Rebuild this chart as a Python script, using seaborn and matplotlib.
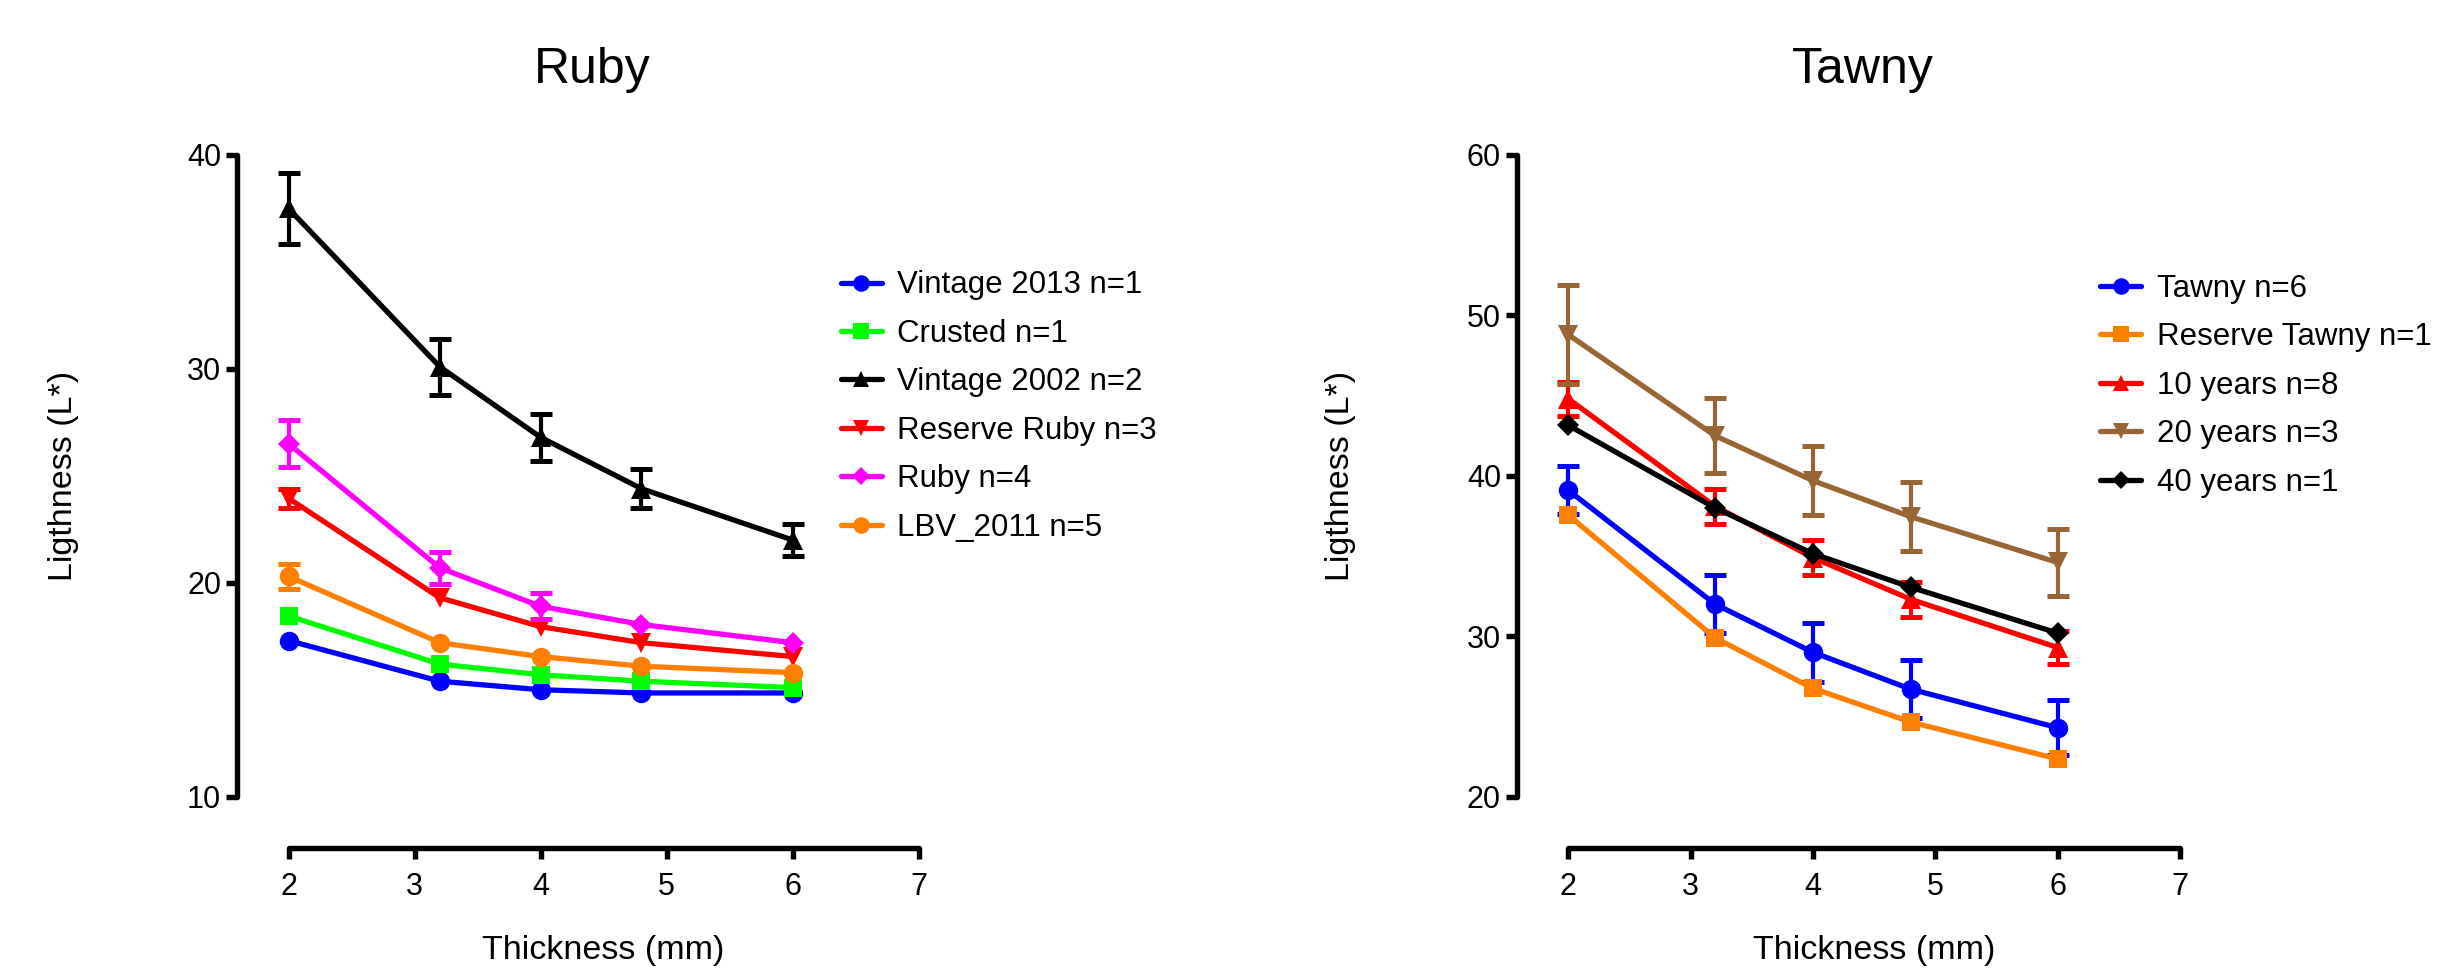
import numpy as np
import pandas as pd
import matplotlib
matplotlib.use("Agg")
import matplotlib.pyplot as plt
import seaborn as sns

# thickness of the sample (mm)
thickness = [2, 3.2, 4, 4.8, 6]

# --- Ruby panel ---
ruby_names = ["Vintage 2013 n=1", "Crusted n=1", "Vintage 2002 n=2",
              "Reserve Ruby n=3", "Ruby n=4", "LBV_2011 n=5"]
ruby_mean = [
    [17.3, 15.4, 15.0, 14.85, 14.85],
    [18.45, 16.2, 15.7, 15.4, 15.1],
    [37.5, 30.1, 26.8, 24.4, 22.0],
    [23.95, 19.3, 17.95, 17.2, 16.55],
    [26.5, 20.7, 18.9, 18.05, 17.2],
    [20.3, 17.2, 16.55, 16.1, 15.8],
]
ruby_err = [
    [0, 0, 0, 0, 0],
    [0, 0, 0, 0, 0],
    [1.65, 1.3, 1.1, 0.9, 0.77],
    [0.45, 0, 0, 0, 0],
    [1.1, 0.75, 0.6, 0, 0],
    [0.57, 0, 0, 0, 0],
]
ruby_colors = ["#0000FF", "#00FF00", "#000000", "#FF0000", "#FF00FF", "#FF8000"]
ruby_markers = ["o", "s", "^", "v", "D", "o"]

# --- Tawny panel ---
tawny_names = ["Tawny n=6", "Reserve Tawny n=1", "10 years n=8",
               "20 years n=3", "40 years n=1"]
tawny_mean = [
    [39.1, 32.0, 29.0, 26.7, 24.3],
    [37.55, 29.9, 26.75, 24.65, 22.35],
    [44.8, 38.1, 34.9, 32.3, 29.3],
    [48.8, 42.5, 39.7, 37.45, 34.6],
    [43.15, 38.0, 35.15, 33.05, 30.2],
]
tawny_err = [
    [1.5, 1.8, 1.85, 1.8, 1.7],
    [0, 0, 0, 0, 0],
    [1.05, 1.1, 1.1, 1.1, 1.03],
    [3.1, 2.35, 2.15, 2.15, 2.07],
    [0, 0, 0, 0, 0],
]
tawny_colors = ["#0000FF", "#FF8000", "#FF0000", "#996633", "#000000"]
tawny_markers = ["o", "s", "^", "v", "D"]

msizes = {"o": 14, "s": 13.5, "^": 14, "v": 14, "D": 11}

sns.set_style("ticks", {"axes.edgecolor": "black", "text.color": "black",
                        "xtick.color": "black", "ytick.color": "black",
                        "axes.labelcolor": "black"})
plt.rcParams["font.family"] = ["Liberation Sans", "DejaVu Sans"]

W, H = 2458, 968
fig = plt.figure(figsize=(W / 100, H / 100), dpi=100)


def panel(rect, title, names, means, errs, colors, markers, ylim, yticks,
          title_x, ylab_x, leg_anchor):
    ax = fig.add_axes(rect)
    rows = []
    for n, m in zip(names, means):
        for x, v in zip(thickness, m):
            rows.append({"thickness": x, "L": v, "series": n})
    df = pd.DataFrame(rows)
    sns.lineplot(data=df, x="thickness", y="L", hue="series", style="series",
                 hue_order=names, style_order=names,
                 palette=dict(zip(names, colors)),
                 markers=dict(zip(names, markers)), dashes=False,
                 errorbar=None, linewidth=3.8, markeredgewidth=0,
                 legend=False, ax=ax)
    lines = list(ax.lines)
    for i, (line, mk, col) in enumerate(zip(lines, markers, colors)):
        line.set_markersize(msizes[mk])
        line.set_zorder(3 + i)
        line.set_clip_on(False)
        e = np.array(errs[i], dtype=float)
        mask = e > 0
        if mask.any():
            cont = ax.errorbar(np.array(thickness)[mask], np.array(means[i])[mask],
                               yerr=e[mask], fmt="none", ecolor=col,
                               elinewidth=3, capsize=8, capthick=3.6,
                               zorder=3 + i)
            for art in cont.get_children():
                art.set_clip_on(False)

    ax.set_xlim(2, 7)
    ax.set_ylim(*ylim)
    ax.set_xticks([2, 3, 4, 5, 6, 7])
    ax.set_yticks(yticks)
    sns.despine(ax=ax, offset=37)
    for s in ("left", "bottom"):
        ax.spines[s].set_linewidth(3.9)
        ax.spines[s].set_capstyle("round")
    ax.tick_params(axis="both", direction="out", length=8, width=3.9,
                   labelsize=22)
    ax.tick_params(axis="x", pad=9)
    ax.tick_params(axis="y", pad=3.5)

    ax.set_xlabel("Thickness (mm)", fontsize=24.5)
    ax.set_ylabel("Ligthness (L*)", fontsize=24.5)
    ax.xaxis.set_label_coords(0.5, -0.216)
    ax.yaxis.set_label_coords(ylab_x, 0.5)
    ax.set_title(title, fontsize=36, x=title_x, y=1.0, pad=52)

    ax.legend(handles=lines, labels=names, loc="upper left",
              bbox_to_anchor=leg_anchor, bbox_transform=fig.transFigure,
              frameon=False, fontsize=22.5, handlelength=1.31,
              handletextpad=0.5, labelspacing=0.59, borderpad=0,
              borderaxespad=0, markerscale=0.85, numpoints=1)
    return ax


panel([288.5 / W, 1 - 796.7 / H, 630.3 / W, 641.7 / H], "Ruby",
      ruby_names, ruby_mean, ruby_err, ruby_colors, ruby_markers,
      (10, 40), [10, 20, 30, 40], 0.482, -0.333,
      (840.7 / W, 1 - 270.5 / H))

panel([1568.3 / W, 1 - 796.7 / H, 611.7 / W, 641.7 / H], "Tawny",
      tawny_names, tawny_mean, tawny_err, tawny_colors, tawny_markers,
      (20, 60), [20, 30, 40, 50, 60], 0.481, -0.347,
      (2100.2 / W, 1 - 273.8 / H))

fig.savefig("out.png", dpi=100)
